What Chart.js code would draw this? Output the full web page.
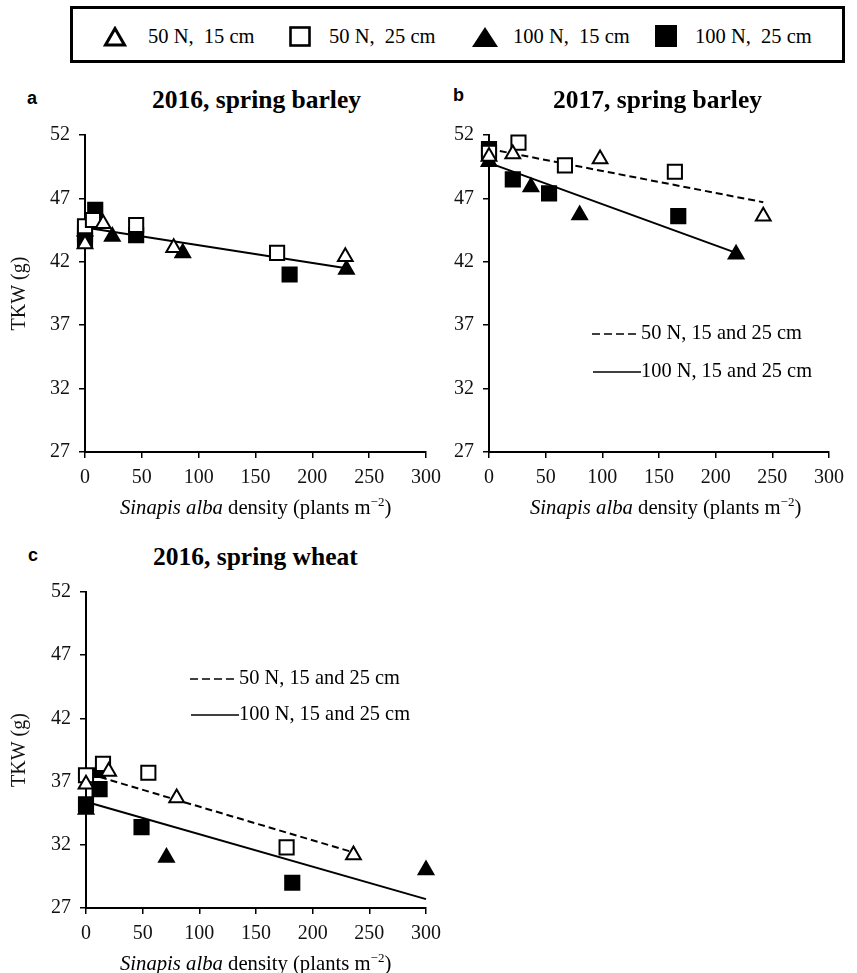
<!DOCTYPE html>
<html>
<head>
<meta charset="utf-8">
<script src="https://cdn.jsdelivr.net/npm/chart.js@4.4.0/dist/chart.umd.min.js"></script>
<style>
  body { margin: 0; background: #fff; font-family: "Liberation Serif", "Times New Roman", serif; color: #000; }
  #page { position: relative; width: 857px; height: 973px; overflow: hidden; }
  .wrap { position: absolute; }
  .title { position: absolute; font-weight: bold; font-size: 25.5px; line-height: 26px; white-space: nowrap; }
  .letter { position: absolute; font-family: "Liberation Sans", Arial, sans-serif; font-weight: bold; font-size: 18px; line-height: 18px; }
  .xtitle { position: absolute; font-size: 20.7px; line-height: 20px; white-space: nowrap; }
  .xtitle sup { font-size: 13px; line-height: 0; }
  .lg { position: absolute; font-size: 20.4px; line-height: 20px; white-space: nowrap; }
  #topLegend { position: absolute; left: 70px; top: 6px; width: 775px; height: 57px; box-sizing: border-box; border: 3px solid #000; }
  .icon { position: absolute; }
  .ltext { position: absolute; font-size: 20.5px; line-height: 20px; white-space: pre; }
</style>
</head>
<body>
<div id="page">
  <div id="topLegend"></div>

  <div class="letter" style="left:27px; top:89px;">a</div>
  <div class="title" style="left:152px; top:87px;">2016, spring barley</div>
  <div class="wrap" style="left:0; top:114px; width:449px; height:406px;"><canvas id="chartA"></canvas></div>
  <div class="xtitle" style="left:120px; top:497px;"><i>Sinapis alba</i> density (plants m<sup>−2</sup>)</div>

  <div class="letter" style="left:453px; top:86px;">b</div>
  <div class="title" style="left:553px; top:87px;">2017, spring barley</div>
  <div class="wrap" style="left:430px; top:114px; width:427px; height:406px;"><canvas id="chartB"></canvas></div>
  <div class="xtitle" style="left:530px; top:497px;"><i>Sinapis alba</i> density (plants m<sup>−2</sup>)</div>
  <div class="lg" style="left:592px; top:322px;"><svg width="49" height="4" style="vertical-align:middle"><line x1="0" y1="2" x2="46" y2="2" stroke="#000" stroke-width="1.6" stroke-dasharray="8,4"/></svg>50 N, 15 and 25 cm</div>
  <div class="lg" style="left:593px; top:360px;"><svg width="48" height="4" style="vertical-align:middle"><line x1="0" y1="2" x2="48" y2="2" stroke="#000" stroke-width="1.6"/></svg>100 N, 15 and 25 cm</div>

  <div class="letter" style="left:28px; top:546px;">c</div>
  <div class="title" style="left:153px; top:544px;">2016, spring wheat</div>
  <div class="wrap" style="left:0; top:571px; width:449px; height:402px;"><canvas id="chartC"></canvas></div>
  <div class="xtitle" style="left:120px; top:953px;"><i>Sinapis alba</i> density (plants m<sup>−2</sup>)</div>
  <div class="lg" style="left:190px; top:667px;"><svg width="49" height="4" style="vertical-align:middle"><line x1="0" y1="2" x2="46" y2="2" stroke="#000" stroke-width="1.6" stroke-dasharray="8,4"/></svg>50 N, 15 and 25 cm</div>
  <div class="lg" style="left:191px; top:703px;"><svg width="48" height="4" style="vertical-align:middle"><line x1="0" y1="2" x2="48" y2="2" stroke="#000" stroke-width="1.6"/></svg>100 N, 15 and 25 cm</div>
</div>

<script>
// tick values
const xTicks = [0, 50, 100, 150, 200, 250, 300];
const yTicks = [27, 32, 37, 42, 47, 52];

const seriesNames = ["50 N,  15 cm", "50 N,  25 cm", "100 N,  15 cm", "100 N,  25 cm"];

// a: 2016, spring barley
const aN50s15x = [0, 16, 78, 229];
const aN50s15y = [43.4, 45.0, 43.1, 42.4];
const aN50s25x = [0, 7, 45, 169];
const aN50s25y = [44.8, 45.3, 44.9, 42.7];
const aN100s15x = [0, 24, 86, 230];
const aN100s15y = [44.4, 44.0, 42.7, 41.4];
const aN100s25x = [0, 0, 9, 45, 180];
const aN100s25y = [43.7, 44.2, 46.1, 44.1, 41.0];
const aFit100x = [0, 230];
const aFit100y = [44.7, 41.5];

// b: 2017, spring barley
const bN50s15x = [0, 21, 98, 242];
const bN50s15y = [50.3, 50.5, 50.1, 45.6];
const bN50s25x = [0, 26, 67, 164];
const bN50s25y = [50.6, 51.4, 49.6, 49.1];
const bN100s15x = [0, 37, 80, 218];
const bN100s15y = [49.9, 47.9, 45.7, 42.6];
const bN100s25x = [0, 21, 53, 167];
const bN100s25y = [50.9, 48.5, 47.4, 45.6];
const bFit50x = [0, 242];
const bFit50y = [50.9, 46.7];
const bFit100x = [0, 218];
const bFit100y = [49.8, 42.7];

// c: 2016, spring wheat
const cN50s15x = [0, 20, 80, 236];
const cN50s15y = [36.8, 37.8, 35.7, 31.2];
const cN50s25x = [0, 15, 55, 177];
const cN50s25y = [37.5, 38.4, 37.7, 31.8];
const cN100s15x = [0, 10, 71, 300];
const cN100s15y = [34.8, 37.7, 31.0, 30.0];
const cN100s25x = [0, 12, 49, 182];
const cN100s25y = [35.2, 36.4, 33.4, 29.0];
const cFit50x = [3, 236];
const cFit50y = [37.6, 31.4];
const cFit100x = [0, 300];
const cFit100y = [35.4, 27.7];

const markers = [
  { pointStyle: "triangle", bg: "#fff", r: 8.5 },
  { pointStyle: "rect", bg: "#fff", r: 10 },
  { pointStyle: "triangle", bg: "#000", r: 8.5 },
  { pointStyle: "rect", bg: "#000", r: 10 }
];

const pts = (xs, ys) => xs.map((x, i) => ({ x: x, y: ys[i] }));

function pointSets(series) {
  return series.map((s, i) => ({
    label: seriesNames[i],
    data: pts(s[0], s[1]),
    pointStyle: markers[i].pointStyle,
    pointRadius: markers[i].r,
    pointBackgroundColor: markers[i].bg,
    pointBorderColor: "#000",
    pointBorderWidth: 2,
    showLine: false,
    clip: false,
    order: 1
  }));
}

function fitSet(xs, ys, dashed) {
  return {
    label: dashed ? "50 N, 15 and 25 cm" : "100 N, 15 and 25 cm",
    data: pts(xs, ys),
    showLine: true,
    borderColor: "#000",
    borderWidth: 2,
    borderDash: dashed ? [7, 4] : [],
    pointRadius: 0,
    clip: false,
    order: 2
  };
}

const tickFont = { family: "Liberation Serif", size: 20 };

function makeChart(id, datasets, opts) {
  return new Chart(document.getElementById(id), {
    type: "scatter",
    data: { datasets: datasets },
    options: {
      responsive: true,
      maintainAspectRatio: false,
      animation: false,
      layout: { padding: { top: 0, right: opts.right, left: 0, bottom: 0 } },
      plugins: { legend: { display: false }, tooltip: { enabled: false } },
      scales: {
        x: {
          type: "linear",
          min: 0,
          max: 300,
          afterBuildTicks: s => { s.ticks = xTicks.map(v => ({ value: v })); },
          afterFit: s => { s.height = opts.xh; },
          grid: { drawOnChartArea: false, drawTicks: true, tickLength: 6, color: "#000", lineWidth: 1.5 },
          border: { display: true, color: "#000", width: 2 },
          ticks: { font: tickFont, color: "#111", padding: 8, maxRotation: 0 }
        },
        y: {
          min: 27,
          max: 52,
          afterBuildTicks: s => { s.ticks = yTicks.map(v => ({ value: v })); },
          afterFit: s => { s.width = opts.yw; },
          grid: { drawOnChartArea: false, drawTicks: true, tickLength: 6, color: "#000", lineWidth: 1.5 },
          border: { display: true, color: "#000", width: 2 },
          ticks: { font: tickFont, color: "#111", padding: 9 },
          title: {
            display: opts.yTitle,
            text: "TKW (g)",
            color: "#111",
            font: { family: "Liberation Serif", size: 20 },
            padding: { top: 8, bottom: 0 }
          }
        }
      }
    }
  });
}

makeChart("chartA", [
  fitSet(aFit100x, aFit100y, false)
].concat(pointSets([[aN50s15x, aN50s15y], [aN50s25x, aN50s25y], [aN100s15x, aN100s15y], [aN100s25x, aN100s25y]])),
  { right: 0, yw: 85, xh: 68, yTitle: true });

makeChart("chartB", [
  fitSet(bFit50x, bFit50y, true),
  fitSet(bFit100x, bFit100y, false)
].concat(pointSets([[bN50s15x, bN50s15y], [bN50s25x, bN50s25y], [bN100s15x, bN100s15y], [bN100s25x, bN100s25y]])),
  { right: 28, yw: 59, xh: 68, yTitle: false });

makeChart("chartC", [
  fitSet(cFit50x, cFit50y, true),
  fitSet(cFit100x, cFit100y, false)
].concat(pointSets([[cN50s15x, cN50s15y], [cN50s25x, cN50s25y], [cN100s15x, cN100s15y], [cN100s25x, cN100s25y]])),
  { right: 0, yw: 86, xh: 65, yTitle: true });

// top legend (page coordinates)
const legendIcons = [
  '<svg width="24" height="21"><polygon points="12,2.5 21.5,19 2.5,19" fill="#fff" stroke="#000" stroke-width="3" stroke-linejoin="miter"/></svg>',
  '<svg width="22" height="21"><rect x="1.5" y="1.5" width="19" height="18" fill="#fff" stroke="#000" stroke-width="2.6"/></svg>',
  '<svg width="26" height="21"><polygon points="13,1 26,21 0,21" fill="#000"/></svg>',
  '<svg width="22" height="22"><rect x="0" y="0" width="22" height="22" fill="#000"/></svg>'
];
const iconLeft = [103, 289, 472, 655];
const iconTop = [26, 26, 26, 25];
const textLeft = [148, 329, 513, 695];
const page = document.getElementById("page");
seriesNames.forEach((name, i) => {
  const ic = document.createElement("div");
  ic.className = "icon";
  ic.style.left = iconLeft[i] + "px";
  ic.style.top = iconTop[i] + "px";
  ic.innerHTML = legendIcons[i];
  page.appendChild(ic);
  const t = document.createElement("div");
  t.className = "ltext";
  t.style.left = textLeft[i] + "px";
  t.style.top = "26px";
  t.textContent = name;
  page.appendChild(t);
});
</script>
</body>
</html>
